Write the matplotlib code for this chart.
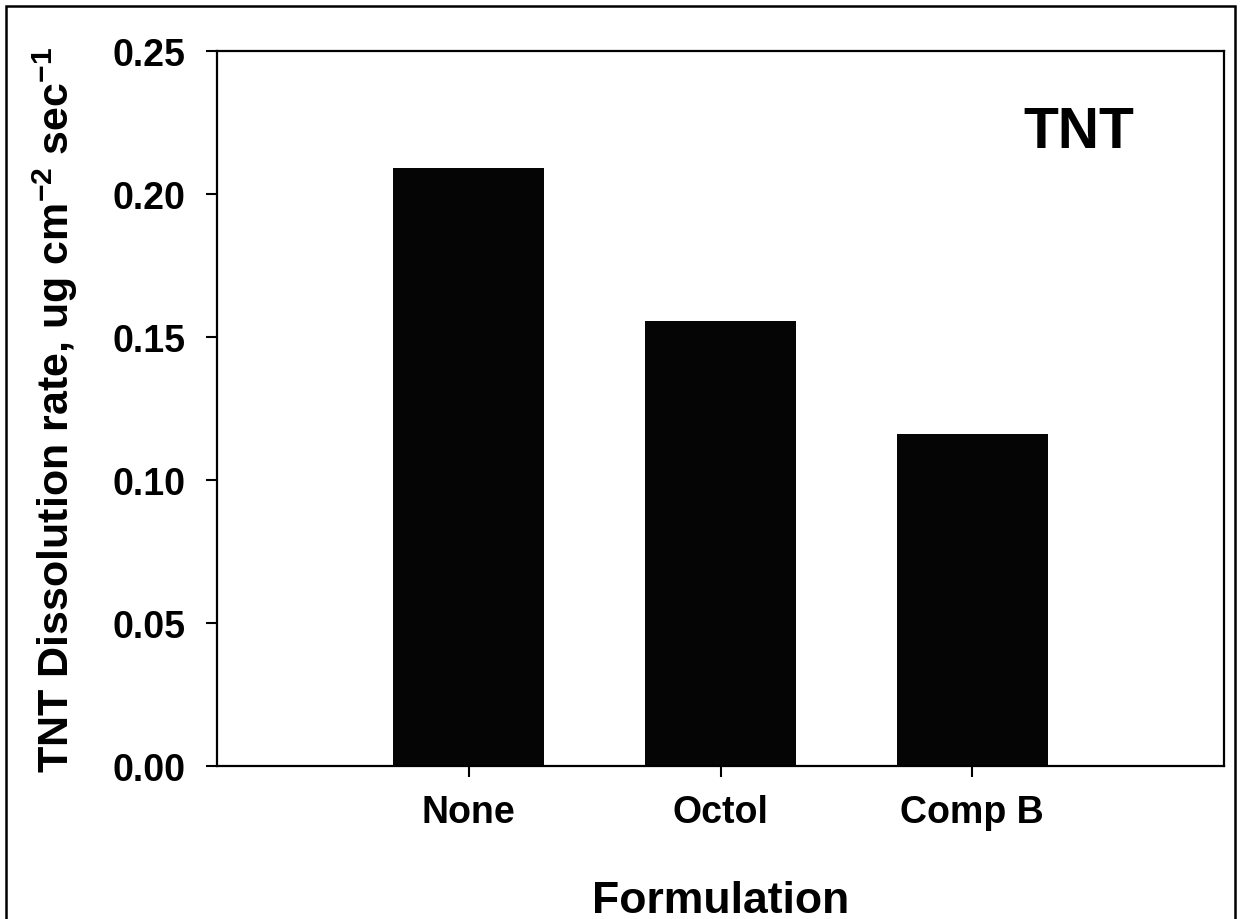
import matplotlib.pyplot as plt
import matplotlib.patches as patches

# data
formulations = ['None', 'Octol', 'Comp B']
rates = [0.209, 0.1555, 0.1162]

plt.rcParams['font.family'] = ['Liberation Sans', 'DejaVu Sans']
plt.rcParams['font.weight'] = 'bold'
plt.rcParams['mathtext.fontset'] = 'custom'
plt.rcParams['mathtext.rm'] = 'Liberation Sans:bold'
plt.rcParams['mathtext.default'] = 'rm'

fig = plt.figure(figsize=(12.41, 9.20), dpi=100)
ax = fig.add_axes([0.1749, 0.1663, 0.8115, 0.7772])

x = [1, 2, 3]
ax.bar(x, rates, width=0.6, color='#050505', edgecolor='none')

ax.set_xlim(0, 4)
ax.set_ylim(0, 0.25)
ax.set_xticks(x)
ax.set_xticklabels(formulations)
ax.set_yticks([0, 0.05, 0.10, 0.15, 0.20, 0.25])
ax.set_yticklabels(['0.00', '0.05', '0.10', '0.15', '0.20', '0.25'])

for s in ax.spines.values():
    s.set_linewidth(1.6)
ax.tick_params(axis='y', direction='out', length=8, width=1.5, labelsize=27, pad=15)
ax.tick_params(axis='x', direction='out', length=8, width=1.5, labelsize=27, pad=12)

ax.set_xlabel('Formulation', fontsize=32, fontweight='bold', labelpad=36)
ax.set_ylabel('TNT Dissolution rate, ug cm$^{-2}$ sec$^{-1}$', fontsize=31, fontweight='bold')
ax.yaxis.set_label_coords(-0.136, 0.5)

ax.text(0.911, 0.866, 'TNT', transform=ax.transAxes, fontsize=41, fontweight='bold',
        ha='right', va='baseline')

# outer frame around the whole figure
frame = patches.Rectangle((6 / 1241, -0.05), 1229 / 1241, 1.05 - 7 / 920,
                          transform=fig.transFigure, fill=False, linewidth=1.8,
                          edgecolor='black')
fig.patches.append(frame)

fig.savefig('out.png', dpi=100)
